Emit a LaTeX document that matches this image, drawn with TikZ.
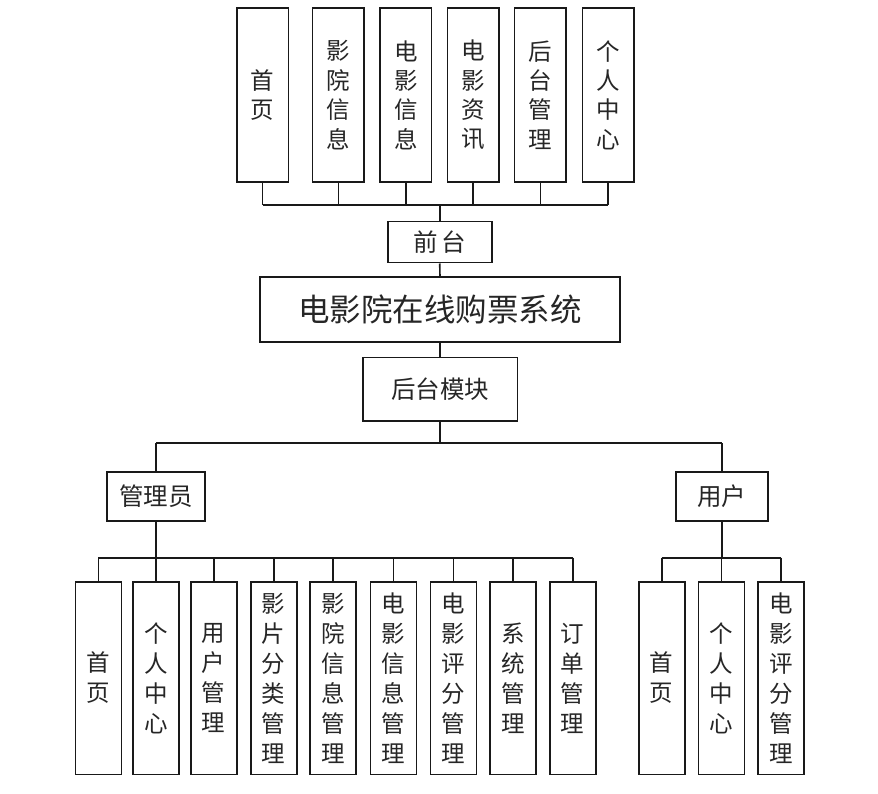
\documentclass[tikz,border=0pt]{standalone}
\usepackage{fontspec}
\newfontfamily\cjk{Noto Sans CJK SC}
\begin{document}
\begin{tikzpicture}[x=1pt,y=-1pt,
  box/.style={draw=black!90,line width=1.6pt,fill=white,inner sep=0pt,align=center,text=black!85},
  tall/.style={box,minimum width=51.6pt,minimum height=174pt,font=\cjk\fontsize{23.5}{29.4}\selectfont},
  low/.style={box,minimum width=46pt,minimum height=192.6pt,font=\cjk\fontsize{23.5}{30}\selectfont},
  mid/.style={box,font=\cjk\fontsize{24.5}{28}\selectfont},
  wire/.style={draw=black!90,line width=1.6pt}]
\useasboundingbox (0,0) rectangle (878,794);
% top row
\node[tall] (t1) at (262.5,95) {首\\页};
\node[tall] (t2) at (338.3,95) {影\\院\\信\\息};
\node[tall] (t3) at (405.8,95) {电\\影\\信\\息};
\node[tall] (t4) at (473.2,95) {电\\影\\资\\讯};
\node[tall] (t5) at (540.3,95) {后\\台\\管\\理};
\node[tall] (t6) at (608.2,95) {个\\人\\中\\心};
\node[mid,minimum width=104pt,minimum height=41pt] (front) at (439.7,242.2) {前\,台};
\node[box,minimum width=360pt,minimum height=64.4pt,font=\cjk\fontsize{31.5}{34}\selectfont] (main) at (440,309.5) {电影院在线购票系统};
\node[mid,minimum width=154.6pt,minimum height=63.7pt] (back) at (440,389.2) {后台模块};
\node[mid,minimum width=97.7pt,minimum height=49pt] (admin) at (156,496.2) {管理员};
\node[mid,minimum width=92pt,minimum height=49pt] (user) at (721.7,496.2) {用户};
% admin children
\node[low] (a1) at (98.3,678) {首\\页};
\node[low] (a2) at (156.2,678) {个\\人\\中\\心};
\node[low] (a3) at (213.7,678) {用\\户\\管\\理};
\node[low] (a4) at (273.7,678) {影\\片\\分\\类\\管\\理};
\node[low] (a5) at (333.2,678) {影\\院\\信\\息\\管\\理};
\node[low] (a6) at (393.5,678) {电\\影\\信\\息\\管\\理};
\node[low] (a7) at (453.3,678) {电\\影\\评\\分\\管\\理};
\node[low] (a8) at (513,678) {系\\统\\管\\理};
\node[low] (a9) at (572.7,678) {订\\单\\管\\理};
% user children
\node[low] (u1) at (661.7,678) {首\\页};
\node[low] (u2) at (721.5,678) {个\\人\\中\\心};
\node[low] (u3) at (781.2,678) {电\\影\\评\\分\\管\\理};
% buses
\coordinate (bus1) at (439.7,205);
\coordinate (bus2) at (440,443);
\coordinate (bus3) at (156,557.7);
\coordinate (bus4) at (721.7,557.7);
% top connectors
\foreach \n in {t1,t2,t3,t4,t5,t6} \draw[wire] (\n.south) -- (\n.south |- bus1);
\draw[wire] (t1.south |- bus1) -- (t6.south |- bus1);
\draw[wire] (bus1) -- (front.north);
\draw[wire] (front.south) -- (main.north);
\draw[wire] (main.south) -- (back.north);
\draw[wire] (back.south) -- (bus2);
\draw[wire] (admin.north |- bus2) -- (user.north |- bus2);
\draw[wire] (admin.north |- bus2) -- (admin.north);
\draw[wire] (user.north |- bus2) -- (user.north);
% admin connectors
\draw[wire] (admin.south) -- (bus3);
\draw[wire] (a1.north |- bus3) -- (a9.north |- bus3);
\foreach \n in {a1,a2,a3,a4,a5,a6,a7,a8,a9} \draw[wire] (\n.north |- bus3) -- (\n.north);
% user connectors
\draw[wire] (user.south) -- (bus4);
\draw[wire] (u1.north |- bus4) -- (u3.north |- bus4);
\foreach \n in {u1,u2,u3} \draw[wire] (\n.north |- bus4) -- (\n.north);
\end{tikzpicture}
\end{document}
